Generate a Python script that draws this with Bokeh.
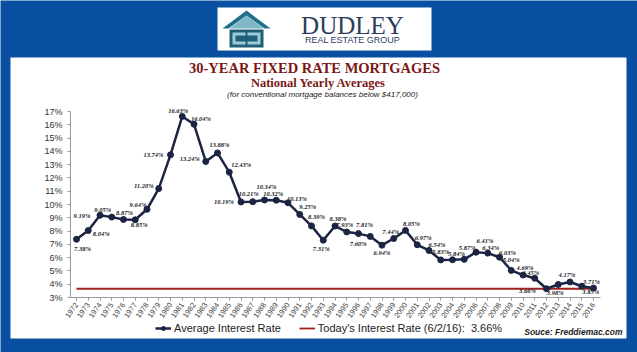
import math
from bokeh.plotting import figure
from bokeh.models import (ColumnDataSource, Label, BoxAnnotation, PolyAnnotation,
                          Legend, LegendItem, FixedTicker, PrintfTickFormatter, Range1d)
from bokeh.core.properties import value
from bokeh.embed import file_html
from bokeh.resources import INLINE

# ---------------- data ----------------
years = list(range(1972, 2017))
rates = [7.38, 8.04, 9.19, 9.05, 8.87, 8.85, 9.64, 11.20, 13.74, 16.63,
         16.04, 13.24, 13.88, 12.43, 10.19, 10.21, 10.34, 10.32, 10.13, 9.25,
         8.39, 7.31, 8.38, 7.93, 7.81, 7.60, 6.94, 7.44, 8.05, 6.97,
         6.54, 5.83, 5.84, 5.87, 6.41, 6.34, 6.03, 5.04, 4.69, 4.45,
         3.66, 3.98, 4.17, 3.85, 3.71]
today_rate = 3.66
y_ticks = list(range(3, 18))
series_name = "Average Interest Rate"
today_name = "Today's Interest Rate (6/2/16):  3.66%"

# label offsets in pixels (style only)
lab_dx = [6, 13, -18, -9, 1, 4, -9, -15, -17, -4,
          7, -16, 2, 12, -17, -4, 2, -3, 9, 8,
          5, -2, 3, -2, 6, -12, 0, -3, 6, 6,
          8, 0, 4, 3, 9, 3, 8, 0, 2, -4,
          -19, -3, -3, 9, -2]
lab_dy = [9, 3, 0, -8, -7, 5, -5, -3, 0, -6,
          -6, -3, -8, -8, 0, -8, -13, -7, -4, -8,
          -9, 8, -8, -8, -9, 7, 7, -7, -7, -7,
          -6, -8, -6, -12, -12, -6, -5, -11, -8, -6,
          2, 8, -7, 5, -7]

# ---------------- geometry (whole canvas is the frame) ----------------
W, H = 637, 352
PX_YR = (593 - 76) / 44.0
PX_PC = (297 - 111) / 14.0
X0 = 1972 - 76 / PX_YR
X1 = 1972 + (W - 76) / PX_YR
Y0 = 3 - (H - 297) / PX_PC
Y1 = 3 + 297 / PX_PC


def dx(px):
    return X0 + px * (X1 - X0) / W


def dy(py):
    return Y1 - py * (Y1 - Y0) / H


BLUE = "#0a50a2"
NAVY = "#1b2442"
RED = "#a3201f"
TITLE_RED = "#7b1716"

p = figure(width=W, height=H, x_range=Range1d(X0, X1), y_range=Range1d(Y0, Y1),
           min_border=0, min_border_left=0, min_border_right=0, min_border_top=0,
           min_border_bottom=0, output_backend="svg", toolbar_location=None,
           background_fill_color=BLUE, border_fill_color=BLUE,
           outline_line_color=None)

# white panel
p.add_layout(BoxAnnotation(left=dx(10), right=dx(626), top=dy(57), bottom=dy(338),
                           fill_color="white", fill_alpha=1, line_color=None,
                           level="underlay"))
# logo box
p.add_layout(BoxAnnotation(left=dx(217), right=dx(431), top=dy(7), bottom=dy(50),
                           fill_color="white", fill_alpha=1, line_color=None,
                           level="underlay"))


def poly(pts, color):
    p.add_layout(PolyAnnotation(xs=[dx(a) for a, b in pts], ys=[dy(b) for a, b in pts],
                                fill_color=color, fill_alpha=1, line_color=None,
                                level="underlay"))


poly([(222, 28), (246, 10), (270, 28), (264, 28), (246, 15), (228, 28)], "#1f6f8b")
poly([(229, 28), (246, 15), (263, 28)], "#7fb6c8")
poly([(229, 29), (263, 29), (263, 47), (229, 47)], "#1f5f7a")
poly([(232, 32), (245, 32), (245, 35), (235, 35), (235, 41), (245, 41), (245, 44), (232, 44)], "#9ccbd8")
poly([(247, 32), (260, 32), (260, 44), (247, 44), (247, 41), (257, 41), (257, 35), (247, 35)], "#9ccbd8")

p.add_layout(Label(x=dx(352), y=dy(25), text="DUDLEY", text_align="center",
                   text_baseline="middle", text_font="Liberation Serif",
                   text_font_size="25px", text_color="#2c3d5b"))
p.add_layout(Label(x=dx(352), y=dy(39), text="REAL ESTATE GROUP", text_align="center",
                   text_baseline="middle", text_font="Liberation Sans",
                   text_font_size="9px", text_color="#2c3d5b"))

# titles
p.add_layout(Label(x=dx(314), y=dy(67), text="30-YEAR FIXED RATE MORTGAGES",
                   text_align="center", text_baseline="middle",
                   text_font="Liberation Serif", text_font_style="bold",
                   text_font_size="14.5px", text_color=TITLE_RED))
p.add_layout(Label(x=dx(318), y=dy(82), text="National Yearly Averages",
                   text_align="center", text_baseline="middle",
                   text_font="Liberation Serif", text_font_style="bold",
                   text_font_size="12.5px", text_color=TITLE_RED))
p.add_layout(Label(x=dx(322), y=dy(94), text="(for conventional mortgage balances below $417,000)",
                   text_align="center", text_baseline="middle",
                   text_font="Liberation Sans", text_font_style="italic",
                   text_font_size="8px", text_color="#222222"))
p.add_layout(Label(x=dx(622), y=dy(331), text="Souce: Freddiemac.com",
                   text_align="right", text_baseline="middle",
                   text_font="Liberation Sans", text_font_style="bold italic",
                   text_font_size="8.5px", text_color="#222222"))

# series
red = p.line([years[0], years[-1]], [today_rate, today_rate], line_color=RED, line_width=1.8)
ln = p.line(years, rates, line_color=NAVY, line_width=2.5)
pts = p.scatter(years, rates, size=6, color=NAVY)

src = ColumnDataSource(dict(x=years, y=rates, t=["%.2f%%" % r for r in rates],
                            ox=lab_dx, oy=lab_dy))
p.text(x="x", y="y", text="t", x_offset="ox", y_offset="oy", source=src,
       text_font=value("Liberation Serif"), text_font_style="bold italic",
       text_font_size="6.5px", text_align="center", text_baseline="middle",
       text_color="#222222")

# axes (drawn inside the frame at fixed locations)
p.xgrid.visible = False
p.ygrid.visible = False
p.xaxis.fixed_location = y_ticks[0]
p.xaxis.bounds = (dx(70), dx(600))
p.xaxis.ticker = FixedTicker(ticks=years)
p.xaxis.major_label_orientation = math.radians(55)
p.xaxis.major_label_text_font = "Liberation Sans"
p.xaxis.major_label_text_font_size = "7.5px"
p.xaxis.major_label_text_color = "#444444"
p.xaxis.axis_line_color = "#9a9a9a"
p.xaxis.major_tick_line_color = "#9a9a9a"
p.xaxis.major_tick_out = 3
p.xaxis.major_tick_in = 0
p.xaxis.minor_tick_line_color = None
p.xaxis.major_label_standoff = 3

p.yaxis.fixed_location = dx(70)
p.yaxis.bounds = (y_ticks[0], y_ticks[-1])
p.yaxis.ticker = FixedTicker(ticks=y_ticks)
p.yaxis.formatter = PrintfTickFormatter(format="%d%%")
p.yaxis.major_label_text_font = "Liberation Sans"
p.yaxis.major_label_text_font_size = "9px"
p.yaxis.major_label_text_color = "#333333"
p.yaxis.axis_line_color = "#9a9a9a"
p.yaxis.major_tick_line_color = "#9a9a9a"
p.yaxis.major_tick_out = 3
p.yaxis.major_tick_in = 0
p.yaxis.minor_tick_line_color = None
p.yaxis.major_label_standoff = 5

legend = Legend(items=[LegendItem(label=series_name, renderers=[ln, pts]),
                       LegendItem(label=today_name, renderers=[red])],
                orientation="horizontal", location=(155, 18),
                label_text_font="Liberation Sans", label_text_font_size="11px",
                label_text_color="#222222", glyph_width=16, glyph_height=10,
                label_standoff=3, spacing=18, padding=0, margin=0,
                label_height=12,
                border_line_color=None, background_fill_alpha=0)
p.add_layout(legend, "center")

open("out.html", "w").write(file_html(p, INLINE))
